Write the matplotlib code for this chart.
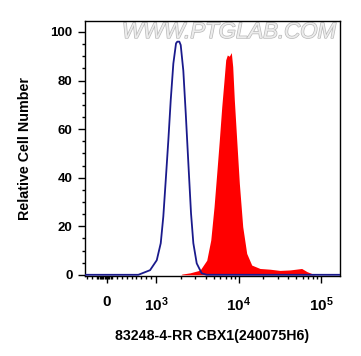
import numpy as np
import matplotlib
matplotlib.use("Agg")
import matplotlib.pyplot as plt
import matplotlib.patheffects as pe
from matplotlib.ticker import FixedLocator, NullFormatter

plt.rcParams['font.family'] = ['Liberation Sans', 'DejaVu Sans']
plt.rcParams['font.weight'] = 'bold'
plt.rcParams['mathtext.fontset'] = 'custom'
plt.rcParams['mathtext.rm'] = 'Liberation Sans:bold'
plt.rcParams['mathtext.it'] = 'Liberation Sans:bold'
plt.rcParams['mathtext.bf'] = 'Liberation Sans:bold'

# isotype control (blue outline)
blue_x = [-450, 639, 878, 1020, 1140, 1225, 1311, 1410, 1507, 1621, 1747, 1811, 1916,
          1991, 2142, 2291, 2464, 2655, 2833, 3113, 3578, 4120, 170000]
blue_y = [0, 0, 1.9, 6, 13, 24, 39, 55.5, 72, 87, 95.3, 96, 96,
          94.6, 84, 66.5, 46, 25.3, 13, 4.7, 0.6, 0, 0]

# CBX1 stained sample (red filled)
red_x = [-450, 2000, 2065, 2581, 3413, 4118, 4607, 5050, 5443, 5852, 6256, 6668, 6995,
         7315, 7730, 8180, 8505, 8895, 9510, 10230, 11250, 12570, 14460, 18200,
         24080, 31840, 42100, 58300, 67700, 84500, 170000]
red_y = [0, 0, 0.3, 0.8, 1.9, 6, 14.3, 28, 41.8, 55.5, 69, 80, 88.5,
         90.5, 90, 91.5, 85.7, 72, 55.5, 37.7, 19.8, 8.8, 4, 2.6,
         2.3, 1.8, 2.0, 2.6, 1.3, 0, 0]

xticks = [0, 1e3, 1e4, 1e5]
xtick_labels = ['0', r'$10^{3}$', r'$10^{4}$', r'$10^{5}$']
yticks = [0, 20, 40, 60, 80, 100]

fig = plt.figure(figsize=(3.61, 3.56), dpi=100)
ax = fig.add_axes([0.2355, 0.2247, 0.7063, 0.7163])

ax.fill_between(red_x, red_y, 0, color='#ff0000', lw=0, zorder=2)
ax.plot(blue_x, blue_y, color='#1a1a8c', lw=1.3, zorder=3)

ax.set_xscale('symlog', linthresh=1000, linscale=0.535)
ax.set_xlim(-449, 170000)
ax.set_ylim(-0.5, 104.5)

# dense ticks around zero merge into a dark block like the original
minor_x = [-400, -300] + list(range(-200, 101, 25)) + list(range(200, 1000, 100)) + \
          [m * 10 ** e for e in (3, 4) for m in range(2, 10)]
ax.xaxis.set_major_locator(FixedLocator(xticks))
ax.xaxis.set_minor_locator(FixedLocator(minor_x))
ax.set_xticklabels(xtick_labels)
ax.xaxis.set_minor_formatter(NullFormatter())

ax.set_yticks(yticks)
ax.yaxis.set_minor_locator(FixedLocator(list(range(5, 100, 5))))

ax.tick_params(which='major', length=5, width=1, labelsize=9.5)
ax.tick_params(which='minor', length=2.5, width=1)
ax.tick_params(axis='y', which='major', pad=4)
ax.tick_params(axis='x', which='major', pad=9, labelsize=11)
for lab in ax.get_yticklabels():
    lab.set_fontweight('bold')

for s in ax.spines.values():
    s.set_linewidth(1)

ax.set_ylabel('Relative Cell Number', fontsize=10.3, fontweight='bold', labelpad=13)
ax.set_xlabel('83248-4-RR CBX1(240075H6)', fontsize=10.2, fontweight='bold', labelpad=11)

ax.text(0.985, 0.955, 'WWW.PTGLAB.COM', transform=ax.transAxes, ha='right', va='center',
        fontsize=16, style='italic', fontweight='normal', color='#ececec',
        path_effects=[pe.withStroke(linewidth=1.0, foreground='#b8b8b8')], zorder=1)

fig.savefig('out.png', dpi=100)
